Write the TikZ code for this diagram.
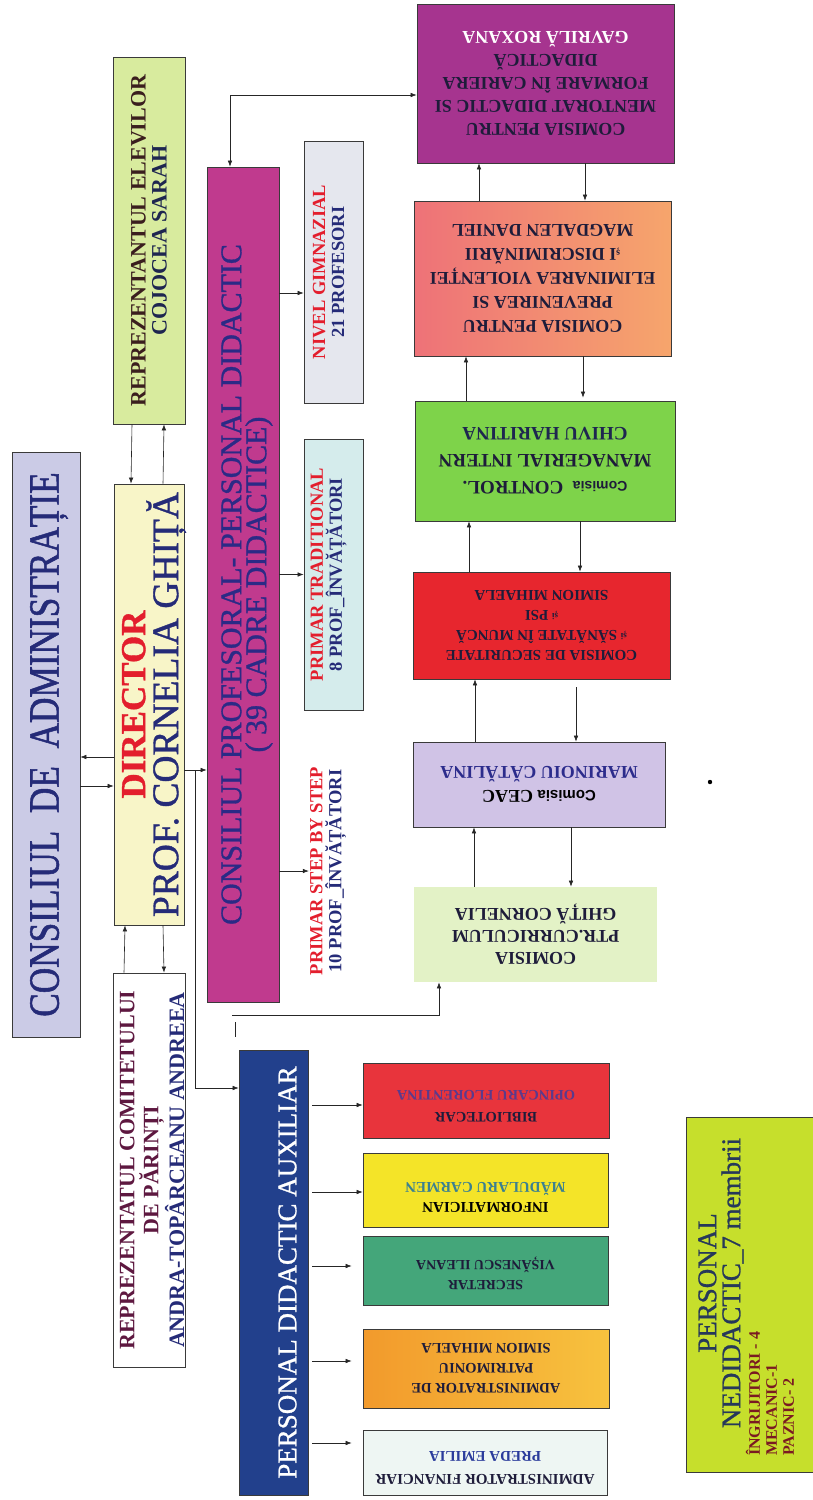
\documentclass[tikz,border=0pt]{standalone}
\usepackage{fontspec}
\setmainfont{Liberation Serif}
\newfontfamily\sansf{Liberation Sans}
\newfontfamily\condf[FakeStretch=0.82,FakeBold=1.2]{Liberation Serif}
\newfontfamily\heavyf[FakeBold=1]{Liberation Serif}
\usetikzlibrary{arrows.meta,calc}
\definecolor{boxline}{HTML}{3A3A3A}
\definecolor{navy}{HTML}{252B78}
\definecolor{dred}{HTML}{E31E2D}
\definecolor{darkbr}{HTML}{3A1E1E}
\definecolor{navyd}{HTML}{1E2650}
\definecolor{maroonx}{HTML}{5E1840}
\definecolor{cptext}{HTML}{2B2A86}
\definecolor{admfill}{HTML}{CBCBE6}
\definecolor{dirfill}{HTML}{F8F5C8}
\definecolor{elevfill}{HTML}{D8EB9E}
\definecolor{cpfill}{HTML}{C03A8E}
\definecolor{gimfill}{HTML}{E5E7EE}
\definecolor{tradfill}{HTML}{D5ECEC}
\definecolor{auxfill}{HTML}{22408C}
\definecolor{mentfill}{HTML}{A6348F}
\definecolor{prevl}{HTML}{EE7278}
\definecolor{prevr}{HTML}{F6A56C}
\definecolor{ctrlfill}{HTML}{7ED34A}
\definecolor{secfill}{HTML}{E7262E}
\definecolor{ceacfill}{HTML}{D0C3E6}
\definecolor{currfill}{HTML}{E3F2C6}
\definecolor{bibfill}{HTML}{E8343C}
\definecolor{inffill}{HTML}{F4E428}
\definecolor{secrfill}{HTML}{44A67A}
\definecolor{patl}{HTML}{F29A2C}
\definecolor{patr}{HTML}{F7C23E}
\definecolor{finfill}{HTML}{EEF6F3}
\definecolor{nedfill}{HTML}{C6DF2C}
\definecolor{cdark}{HTML}{1E1C3A}
\definecolor{ceactext}{HTML}{2C2C8C}
\definecolor{purp}{HTML}{5B3A8C}
\definecolor{teal2}{HTML}{3B8090}
\definecolor{blue2}{HTML}{2B3C9C}
\definecolor{nedtext}{HTML}{26385A}
\definecolor{nedsmall}{HTML}{7A1A22}
\newcommand\mybox[6]{\node[box,#6,minimum width={#4-#2},minimum height={#5-#3}] (#1) at ({(#2+#4)/2},{-(#3+#5)/2}) {};}
\newcommand\smallsh{\raisebox{2pt}{\fontsize{10}{10}\selectfont ș}}
\newcommand\smallsi{\raisebox{3pt}{\fontsize{9}{9}\selectfont și}}
\begin{document}
\begin{tikzpicture}[x=1pt,y=1pt,
  box/.style={draw=boxline,line width=0.7pt,inner sep=0pt},
  arr/.style={-{Latex[length=6pt,width=4.5pt]},line width=0.6pt,draw=black!85},
  darr/.style={{Latex[length=6pt,width=4.5pt]}-{Latex[length=6pt,width=4.5pt]},line width=0.6pt,draw=black!85},
  vt/.style={rotate=90,align=center,inner sep=1pt},
  ut/.style={rotate=180,align=center,inner sep=1pt}]
\fill[white] (0,0) rectangle (812,-1500);
\useasboundingbox (0,0) rectangle (812,-1500);
% boxes
\mybox{adm}{12}{452}{80}{1037}{fill=admfill}
\mybox{dir}{114}{484}{184}{925}{fill=dirfill}
\mybox{elev}{113}{57}{185}{424}{fill=elevfill}
\mybox{com}{113}{973}{185}{1367}{fill=white}
\mybox{cp}{207}{167}{279}{1002}{fill=cpfill}
\mybox{gim}{304}{141}{363}{403}{fill=gimfill}
\mybox{trad}{304}{439}{363}{710}{fill=tradfill}
\mybox{aux}{239}{1050}{308}{1495}{fill=auxfill}
\mybox{ment}{417}{4}{674}{163}{fill=mentfill}
\mybox{prev}{414}{201}{671}{356}{left color=prevl,right color=prevr}
\mybox{ctrl}{415}{401}{675}{521}{fill=ctrlfill}
\mybox{sec}{413}{572}{670}{679}{fill=secfill}
\mybox{ceac}{413}{742}{665}{827}{fill=ceacfill}
\mybox{curr}{414}{887}{657}{982}{fill=currfill,draw=none}
\mybox{bib}{363}{1063}{609}{1138}{fill=bibfill}
\mybox{inf}{363}{1153}{608}{1227}{fill=inffill}
\mybox{secr}{363}{1236}{608}{1305}{fill=secrfill}
\mybox{pat}{363}{1329}{609}{1408}{left color=patl,right color=patr}
\mybox{fin}{363}{1430}{607}{1495}{fill=finfill}
\mybox{ned}{686}{1117}{816}{1472}{fill=nedfill}
% texts
\node[vt,text=navy,font=\condf\fontsize{43}{43}\selectfont] (admt) at ([xshift=3pt]adm.center) {CONSILIUL\ \ DE\ \ ADMINISTRAȚIE};
\node[vt,font=\heavyf\fontsize{37.5}{33}\selectfont] (dirt) at ([xshift=5pt]dir.center) {\textcolor{dred}{\fontsize{35}{33}\selectfont\bfseries DIRECTOR}\\\textcolor{navy}{PROF. CORNELIA GHIȚĂ}};
\node[vt,font=\bfseries\fontsize{22}{21}\selectfont] (elevt) at (elev) {\textcolor{darkbr}{REPREZENTANTUL ELEVILOR}\\\textcolor{navyd}{COJOCEA SARAH}};
\node[vt,font=\bfseries\fontsize{22}{24}\selectfont] (comt) at ([xshift=3pt]com.center) {\textcolor{maroonx}{REPREZENTATUL COMITETULUI}\\\textcolor{maroonx}{DE PĂRINȚI}\\\textcolor{navy}{ANDRA-TOPÂRCEANU ANDREEA}};
\node[vt,text=cptext,font=\heavyf\fontsize{30}{25}\selectfont] (cpt) at ([xshift=4pt]cp.center) {CONSILIUL PROFESORAL- PERSONAL DIDACTIC\\( 39 CADRE DIDACTICE)};
\node[vt,font=\bfseries\fontsize{18.5}{19}\selectfont] (gimt) at ([xshift=-5pt]gim.center) {\textcolor{dred}{NIVEL GIMNAZIAL}\\\textcolor{navy}{21 PROFESORI}};
\node[vt,font=\bfseries\fontsize{18.5}{19}\selectfont] (tradt) at ([xshift=-5pt]trad.center) {\textcolor{dred}{PRIMAR TRADITIONAL}\\\textcolor{navy}{8 PROF\_ÎNVĂȚĂTORI}};
\node[vt,font=\bfseries\fontsize{18.5}{19}\selectfont] (step) at (328,-871) {\textcolor{dred}{PRIMAR STEP BY STEP}\\\textcolor{navy}{10 PROF\_ÎNVĂȚĂTORI}};
\node[vt,text=white,font=\heavyf\fontsize{27}{27}\selectfont] (auxt) at ([xshift=14pt]aux.center) {PERSONAL DIDACTIC AUXILIAR};
\node[ut,text=cdark,font=\bfseries\fontsize{18}{23}\selectfont] (mentt) at (ment) {COMISIA PENTRU\\MENTORAT DIDACTIC SI\\FORMARE ÎN CARIERA\\DIDACTICĂ\\\textcolor{white}{GAVRILĂ ROXANA}};
\node[ut,text=cdark,font=\bfseries\fontsize{18}{24}\selectfont] (prevt) at (prev) {COMISIA PENTRU\\PREVENIREA SI\\ELIMINAREA VIOLENȚEI\\\smallsh I DISCRIMINĂRII\\MAGDALEN DANIEL};
\node[ut,text=cdark,font=\bfseries\fontsize{19}{27}\selectfont] (ctrlt) at (ctrl) {{\sansf\fontsize{14}{14}\selectfont Comisia}\ \ CONTROL.\\MANAGERIAL INTERN\\\textcolor{navyd}{CHIVU HARITINA}};
\node[ut,text=cdark,font=\bfseries\fontsize{15}{20}\selectfont] (sect) at (sec) {COMISIA DE SECURITATE\\\smallsi\ SĂNĂTATE ÎN MUNCĂ\\\smallsi\ PSI\\SIMION MIHAELA};
\node[ut,text=black,font=\bfseries\fontsize{18}{24}\selectfont] (ceact) at (ceac) {{\sansf\fontsize{15}{15}\selectfont Comisia} CEAC\\\textcolor{ceactext}{MARINOIU CĂTĂLINA}};
\node[ut,text=cdark,font=\bfseries\fontsize{18}{22}\selectfont] (currt) at (curr) {COMISIA\\PTR.CURRICULUM\\GHIȚĂ CORNELIA};
\node[ut,text=cdark,font=\bfseries\fontsize{14.5}{22}\selectfont] (bibt) at ([yshift=-5.5pt]bib.center) {BIBLIOTECAR\\\textcolor{purp}{OPINCARU FLORENTINA}};
\node[ut,text=black,font=\bfseries\fontsize{15}{20}\selectfont] (inft) at ([yshift=-7pt]inf.center) {INFORMATICIAN\\\textcolor{teal2}{MĂDULARU CARMEN}};
\node[ut,text=cdark,font=\bfseries\fontsize{14}{20}\selectfont] (secrt) at ([yshift=-2.5pt]secr.center) {SECRETAR\\VIȘĂNESCU ILEANA};
\node[ut,text=cdark,font=\bfseries\fontsize{14.5}{20}\selectfont] (patt) at (pat) {ADMINISTRATOR DE\\PATRIMONIU\\SIMION MIHAELA};
\node[ut,text=cdark,font=\bfseries\fontsize{15}{23}\selectfont] (fint) at ([yshift=-5.5pt]fin.center) {ADMINISTRATOR FINANCIAR\\\textcolor{blue2}{PREDA EMILIA}};
\node[vt,text=nedtext,font=\heavyf\fontsize{27}{24}\selectfont] (nedt) at (721,-1283) {PERSONAL\\NEDIDACTIC\_7 membrii};
\node[rotate=90,anchor=west,align=left,inner sep=0pt,text=nedsmall,font=\bfseries\fontsize{16}{17}\selectfont] (neds) at (770,-1456) {ÎNGRIJITORI - 4\\MECANIC-1\\PAZNIC- 2};
% connectors
\draw[arr] ([xshift=-17pt]elev.south) -- ([xshift=-18pt]dir.north);
\draw[arr] ([xshift=14pt]dir.north) -- ([xshift=15pt]elev.south);
\draw[arr] ([yshift=-52.5pt]dir.west) -- ($(adm.east |- dir.west)+(0,-52.5)$);
\draw[arr] ($(adm.east |- dir.west)+(0,-81.5)$) -- ([yshift=-81.5pt]dir.west);
\draw[arr] ([yshift=-65.5pt]dir.east) -- ($(cp.west |- dir.east)+(0,-65.5)$);
\draw[arr] ($(dir.east)+(11,-65.5)$) |- ([yshift=184.5pt]aux.west);
\draw[arr] ([xshift=-25pt]com.north) -- ([xshift=-24pt]dir.south);
\draw[arr] ([xshift=14pt]dir.south) -- ([xshift=15pt]com.north);
\draw[darr] ([xshift=-13pt]cp.north) |- ([yshift=-11.5pt]ment.west);
\draw[arr] ($(cp.east |- gim.west)+(0,-21)$) -- ([yshift=-21pt]gim.west);
\draw[arr] (cp.east |- trad.west) -- (trad.west);
\draw[arr] (cp.east |- step.north) -- (step.north);
\coordinate (cl) at (232,-1015);
\draw[arr] (cl) -| ([xshift=-96.5pt]curr.south);
\coordinate (tk) at (235,-1022);
\draw[line width=0.6pt,draw=black!85] (tk) -- ++(0,-15);
\draw[arr] ([xshift=-61.5pt]curr.north) -- ([xshift=-65pt]ceac.south);
\draw[arr] ([xshift=32pt]ceac.south) -- ([xshift=35.5pt]curr.north);
\draw[arr] ([xshift=-64pt]ceac.north) -- ([xshift=-66.5pt]sec.south);
\draw[arr,shorten <=8pt] ([xshift=34.5pt]sec.south) -- ([xshift=37pt]ceac.north);
\draw[arr] ([xshift=-72.5pt]sec.north) -- ([xshift=-76pt]ctrl.south);
\draw[arr] ([xshift=35pt]ctrl.south) -- ([xshift=38.5pt]sec.north);
\draw[arr] ([xshift=-79pt]ctrl.north) -- ([xshift=-76.5pt]prev.south);
\draw[arr,shorten >=3pt] ([xshift=40.5pt]prev.south) -- ([xshift=38pt]ctrl.north);
\draw[arr] ([xshift=-63.5pt]prev.north) -- ([xshift=-66.5pt]ment.south);
\draw[arr] ([xshift=39.5pt]ment.south) -- ([xshift=42.5pt]prev.north);
\draw[arr] ($(aux.east |- bib.west)+(4,-4.5)$) -- ([yshift=-4.5pt]bib.west);
\draw[arr] ($(aux.east |- inf.west)+(4,-2)$) -- ([yshift=-2pt]inf.west);
\draw[arr,shorten >=11pt] ($(aux.east |- secr.west)+(4,4.5)$) -- ([yshift=4.5pt]secr.west);
\draw[arr,shorten >=11pt] ($(aux.east |- pat.west)+(4,7.5)$) -- ([yshift=7.5pt]pat.west);
\draw[arr,shorten >=11pt] ($(aux.east |- fin.west)+(4,19.5)$) -- ([yshift=19.5pt]fin.west);
\fill (710,-782) circle (2.2pt);
\end{tikzpicture}
\end{document}
